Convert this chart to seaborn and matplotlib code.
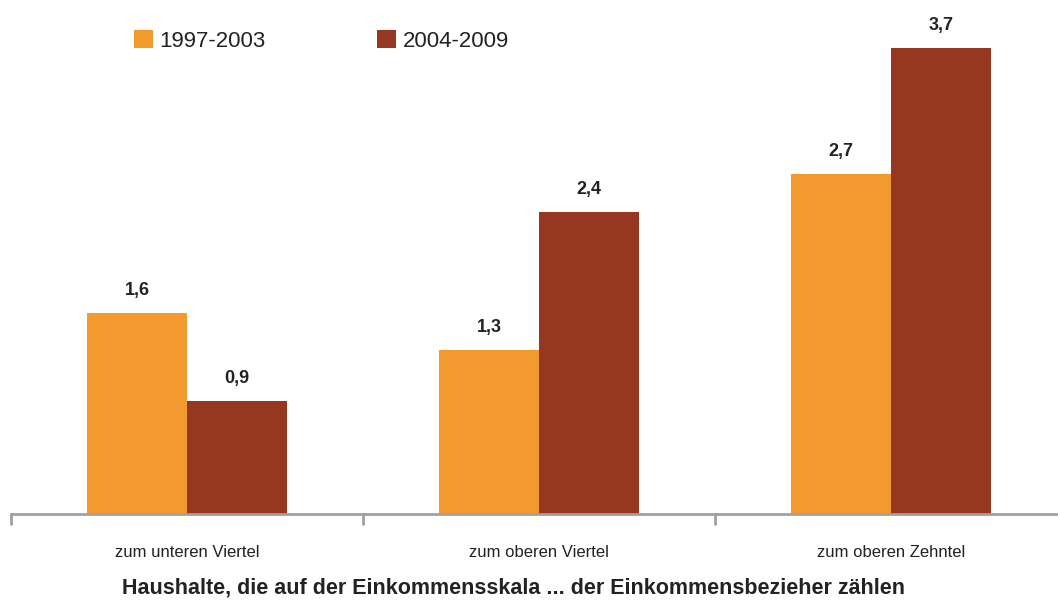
import matplotlib
matplotlib.use("Agg")
import matplotlib.pyplot as plt
import seaborn as sns
import pandas as pd
from matplotlib.patches import Patch
from matplotlib import font_manager

categories = ["zum unteren Viertel", "zum oberen Viertel", "zum oberen Zehntel"]
series_names = ["1997-2003", "2004-2009"]
values_1997_2003 = [1.6, 1.3, 2.7]
values_2004_2009 = [0.9, 2.4, 3.7]
value_labels_1 = ["1,6", "1,3", "2,7"]
value_labels_2 = ["0,9", "2,4", "3,7"]
xlabel = "Haushalte, die auf der Einkommensskala ... der Einkommensbezieher zählen"

colors = ["#F39A2E", "#963821"]

sns.set_theme(style="white")
names = {f.name for f in font_manager.fontManager.ttflist}
narrow = "Liberation Sans Narrow" if "Liberation Sans Narrow" in names else "Liberation Sans"
plt.rcParams["font.family"] = [narrow, "DejaVu Sans"]

df = pd.DataFrame({
    "cat": categories * 2,
    "series": [series_names[0]] * 3 + [series_names[1]] * 3,
    "val": values_1997_2003 + values_2004_2009,
})

W, H = 1058, 605
fig = plt.figure(figsize=(W / 100, H / 100), dpi=100)
ax = fig.add_axes([11 / W, (H - 514) / H, 1056 / W, 514 / H])

sns.barplot(data=df, x="cat", y="val", hue="series", palette=colors,
            width=0.568, gap=0, saturation=1, ax=ax, legend=False,
            errorbar=None, order=categories, hue_order=series_names,
            linewidth=0, edgecolor="none")

ax.set_xlim(-0.5, 2.5)
ax.set_ylim(0, 514 / 125.9)

for cont, labs in zip(ax.containers, [value_labels_1, value_labels_2]):
    ax.bar_label(cont, labels=labs, padding=10, fontsize=13, fontweight="bold",
                 color="#222222")

for s in ["top", "left", "right"]:
    ax.spines[s].set_visible(False)
ax.spines["bottom"].set_color("#a0a0a0")
ax.spines["bottom"].set_linewidth(2)
ax.set_yticks([])
ax.set_ylabel("")
ax.set_xlabel("")
ax.set_xticks(range(3))
ax.set_xticklabels(categories, fontsize=12, color="#222222")
ax.tick_params(axis="x", which="major", length=0, pad=22)
ax.set_xticks([-0.5, 0.5, 1.5, 2.5], minor=True)
ax.tick_params(axis="x", which="minor", length=8, width=2, color="#a0a0a0",
               bottom=True, direction="out")

fig.text(514 / W, 1 - 588 / H, xlabel, ha="center", va="center",
         fontsize=15.5, fontweight="bold", color="#222222")

handles = [Patch(facecolor=c, edgecolor="none") for c in colors]
fig.legend(handles, series_names, ncol=2, loc="center left",
           bbox_to_anchor=(114 / W, 1 - 41 / H), frameon=False,
           fontsize=16, handlelength=0.85, handleheight=0.85,
           handletextpad=0.3, columnspacing=5.0, labelcolor="#222222")

fig.savefig("out.png", dpi=100)
